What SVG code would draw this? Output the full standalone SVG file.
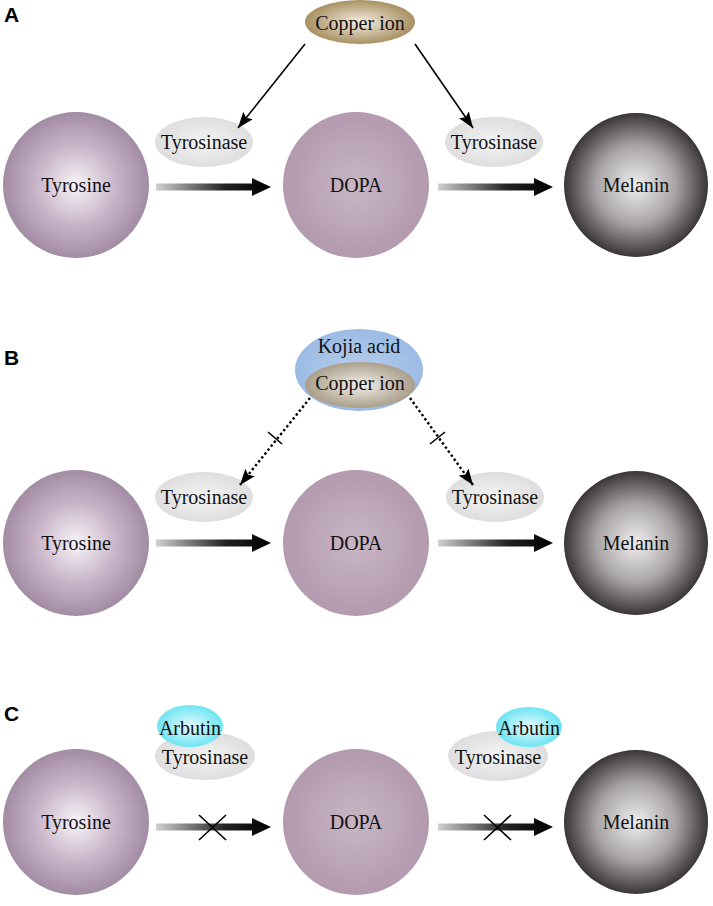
<svg xmlns="http://www.w3.org/2000/svg" width="713" height="906" viewBox="0 0 713 906">
<defs>
<radialGradient id="gTyr" cx="50%" cy="50%" r="50%">
<stop offset="0" stop-color="#f8f4f8"/><stop offset="0.55" stop-color="#c8b4c8"/><stop offset="1" stop-color="#a28ca4"/>
</radialGradient>
<radialGradient id="gDopa" cx="50%" cy="50%" r="50%">
<stop offset="0" stop-color="#c8b6c4"/><stop offset="1" stop-color="#b39aaf"/>
</radialGradient>
<radialGradient id="gMel" cx="50%" cy="50%" r="50%">
<stop offset="0" stop-color="#f0eeef"/><stop offset="0.55" stop-color="#a8a4a6"/><stop offset="1" stop-color="#3a3537"/>
</radialGradient>
<radialGradient id="gCu" cx="50%" cy="50%" r="50%">
<stop offset="0" stop-color="#f4eee2"/><stop offset="1" stop-color="#a89062"/>
</radialGradient>
<radialGradient id="gCu2" cx="50%" cy="50%" r="50%">
<stop offset="0" stop-color="#f2efea"/><stop offset="1" stop-color="#aa9e8a"/>
</radialGradient>
<radialGradient id="gKoj" cx="50%" cy="50%" r="50%">
<stop offset="0" stop-color="#b6cdec"/><stop offset="1" stop-color="#9cbbe4"/>
</radialGradient>
<radialGradient id="gEnz" cx="50%" cy="50%" r="50%">
<stop offset="0" stop-color="#f4f4f4"/><stop offset="1" stop-color="#dedede"/>
</radialGradient>
<radialGradient id="gArb" cx="50%" cy="50%" r="50%">
<stop offset="0" stop-color="#e8fcfe"/><stop offset="1" stop-color="#6ee4f2"/>
</radialGradient>
<linearGradient id="gArr" x1="0" y1="0" x2="1" y2="0">
<stop offset="0" stop-color="#d0d0d0"/><stop offset="0.6" stop-color="#222"/><stop offset="1" stop-color="#000"/>
</linearGradient>
<marker id="ah2" viewBox="0 0 16 12" refX="16" refY="6" markerWidth="16" markerHeight="12" markerUnits="userSpaceOnUse" orient="auto">
<path d="M0,0 L16,6 L0,12 L3,6 Z" fill="#000"/>
</marker>
</defs>
<style>
text{font-family:"Liberation Serif","Times New Roman",serif;font-size:20px;fill:#111;text-anchor:middle;dominant-baseline:central}
.lab{font-family:"Liberation Sans",Arial,sans-serif;font-weight:bold;font-size:21px;text-anchor:start;dominant-baseline:auto;fill:#000}
.ln{stroke:#000;stroke-width:1.6;fill:none}
.dot{stroke:#000;stroke-width:2.4;fill:none;stroke-dasharray:2.4 2.6}
.x{stroke:#000;stroke-width:1.6;fill:none}
</style>

<text class="lab" x="4" y="22">A</text>
<text class="lab" x="4" y="365">B</text>
<text class="lab" x="4" y="721">C</text>

<!-- Panel A -->
<g id="A-tyrosine"><circle cx="76" cy="185" r="73" fill="url(#gTyr)"/><text x="76" y="185">Tyrosine</text></g>
<g id="A-dopa"><circle cx="356" cy="185" r="73" fill="url(#gDopa)"/><text x="356" y="185">DOPA</text></g>
<g id="A-melanin"><circle cx="636" cy="185" r="72" fill="url(#gMel)"/><text x="636" y="185">Melanin</text></g>
<g id="A-copper"><ellipse cx="360" cy="22" rx="55" ry="22" fill="url(#gCu)"/><text x="360" y="23">Copper ion</text></g>
<g id="A-tyrosinase1"><ellipse cx="204" cy="142" rx="49" ry="25" fill="url(#gEnz)"/><text x="204" y="142">Tyrosinase</text></g>
<g id="A-tyrosinase2"><ellipse cx="494" cy="142" rx="49" ry="25" fill="url(#gEnz)"/><text x="494" y="142">Tyrosinase</text></g>

<!-- Panel B -->
<g id="B-tyrosine"><circle cx="76" cy="543" r="73" fill="url(#gTyr)"/><text x="76" y="543">Tyrosine</text></g>
<g id="B-dopa"><circle cx="356" cy="543" r="73" fill="url(#gDopa)"/><text x="356" y="543">DOPA</text></g>
<g id="B-melanin"><circle cx="636" cy="543" r="72" fill="url(#gMel)"/><text x="636" y="543">Melanin</text></g>
<g id="B-kojic"><ellipse cx="359" cy="370" rx="64" ry="41" fill="url(#gKoj)"/><text x="359" y="346">Kojia acid</text></g>
<g id="B-copper"><ellipse cx="360" cy="385" rx="55" ry="23" fill="url(#gCu2)"/><text x="360" y="383">Copper ion</text></g>
<g id="B-tyrosinase1"><ellipse cx="204" cy="497" rx="49" ry="25" fill="url(#gEnz)"/><text x="204" y="497">Tyrosinase</text></g>
<g id="B-tyrosinase2"><ellipse cx="495" cy="497" rx="49" ry="25" fill="url(#gEnz)"/><text x="495" y="497">Tyrosinase</text></g>

<!-- Panel C -->
<g id="C-tyrosine"><circle cx="76" cy="822" r="73" fill="url(#gTyr)"/><text x="76" y="822">Tyrosine</text></g>
<g id="C-dopa"><circle cx="356" cy="822" r="73" fill="url(#gDopa)"/><text x="356" y="822">DOPA</text></g>
<g id="C-melanin"><circle cx="636" cy="822" r="72" fill="url(#gMel)"/><text x="636" y="822">Melanin</text></g>
<g id="C-tyrosinase1"><ellipse cx="205" cy="756" rx="50" ry="24" fill="url(#gEnz)"/><text x="205" y="757">Tyrosinase</text></g>
<g id="C-arbutin1"><ellipse cx="190" cy="726" rx="33" ry="21" fill="url(#gArb)"/><text x="190" y="728">Arbutin</text></g>
<g id="C-tyrosinase2"><ellipse cx="498" cy="756" rx="50" ry="25" fill="url(#gEnz)"/><text x="498" y="757">Tyrosinase</text></g>
<g id="C-arbutin2"><ellipse cx="529" cy="727" rx="33" ry="20" fill="url(#gArb)"/><text x="529" y="728">Arbutin</text></g>

<g id="connectors">
<!-- A -->
<line class="ln" x1="305" y1="44" x2="238" y2="128" marker-end="url(#ah2)"/>
<line class="ln" x1="415" y1="44" x2="473" y2="128" marker-end="url(#ah2)"/>
<path d="M156,183.5 H252 V178 L271,187 L252,196 V190.5 H156 Z" fill="url(#gArr)"/>
<path d="M438,183.5 H534 V178 L553,187 L534,196 V190.5 H438 Z" fill="url(#gArr)"/>
<!-- B -->
<line class="dot" x1="310" y1="398" x2="240" y2="485" marker-end="url(#ah2)"/>
<line class="dot" x1="410" y1="398" x2="473" y2="485" marker-end="url(#ah2)"/>
<line class="x" x1="268" y1="432" x2="282" y2="444"/>
<line class="x" x1="430" y1="444" x2="445" y2="432"/>
<path d="M156,539.5 H252 V534 L271,543 L252,552 V546.5 H156 Z" fill="url(#gArr)"/>
<path d="M438,539.5 H534 V534 L553,543 L534,552 V546.5 H438 Z" fill="url(#gArr)"/>
<!-- C -->
<path d="M156,823.5 H252 V818 L271,827 L252,836 V830.5 H156 Z" fill="url(#gArr)"/>
<path d="M438,823.5 H534 V818 L553,827 L534,836 V830.5 H438 Z" fill="url(#gArr)"/>
<line class="x" x1="199" y1="815" x2="226" y2="840"/>
<line class="x" x1="226" y1="815" x2="199" y2="840"/>
<line class="x" x1="484" y1="815" x2="511" y2="840"/>
<line class="x" x1="511" y1="815" x2="484" y2="840"/>
</g>
</svg>
